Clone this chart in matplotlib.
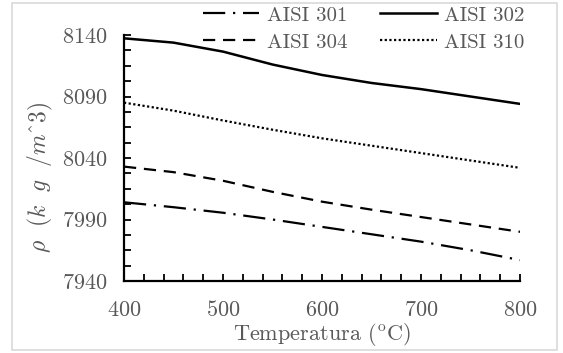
import matplotlib
matplotlib.use("Agg")
import matplotlib.pyplot as plt
import numpy as np
from matplotlib.patches import Rectangle

temps = [400, 450, 500, 550, 600, 650, 700, 750, 800]
aisi_301 = [8004, 8000, 7995.5, 7990, 7984, 7978, 7972, 7965, 7957]
aisi_302 = [8137.3, 8133.8, 8126.5, 8116, 8107.5, 8101, 8096, 8090, 8084]
aisi_304 = [8033, 8028.5, 8021.5, 8012.5, 8004.5, 7998, 7992, 7986, 7980]
aisi_310 = [8085, 8078.5, 8070.5, 8063, 8056, 8050, 8044, 8038, 8032]

y_ticks = [7940, 7990, 8040, 8090, 8140]
x_ticks = [400, 500, 600, 700, 800]

plt.rcParams['font.family'] = 'cmr10'
plt.rcParams['mathtext.fontset'] = 'cm'
plt.rcParams['axes.formatter.use_mathtext'] = True
gray = '#595959'

fig = plt.figure(figsize=(5.63, 3.53), dpi=100)
fig.patches.append(Rectangle((12 / 563, 3 / 353), 545 / 563, 347 / 353,
                             transform=fig.transFigure, fill=False,
                             edgecolor='#d9d9d9', lw=1.2))
ax = fig.add_axes([124 / 563, 72 / 353, 396 / 563, 246 / 353])

l301, = ax.plot(temps, aisi_301, color='k', lw=1.6, dashes=(10, 3.5, 1, 3.5), label='AISI 301')
l302, = ax.plot(temps, aisi_302, color='k', lw=1.8, label='AISI 302')
l304, = ax.plot(temps, aisi_304, color='k', lw=1.6, dashes=(5.5, 3.5), label='AISI 304')
l310, = ax.plot(temps, aisi_310, color='k', lw=1.6, dashes=(1, 1.1), label='AISI 310')

ax.set_xlim(400, 800)
ax.set_ylim(7940, 8140)
ax.set_xticks(x_ticks)
ax.set_xticks(np.arange(400, 801, 20), minor=True)
ax.set_yticks(y_ticks)
ax.set_yticks(np.arange(7940, 8141, 12.5), minor=True)

for s in ['top', 'right']:
    ax.spines[s].set_visible(False)
for s in ['left', 'bottom']:
    ax.spines[s].set_linewidth(1.6)

ax.tick_params(axis='both', which='both', direction='in', width=1.3, length=5,
               colors='k', labelcolor=gray, labelsize=16)
ax.tick_params(axis='x', pad=14)
ax.tick_params(axis='y', pad=12)

fig.text(322 / 563, 1 - 334 / 353, r'Temperatura ($^{\mathrm{o}}$C)', fontsize=16,
         color=gray, ha='center', va='center')
fig.text(40 / 563, 1 - 177 / 353, r'$\rho\ \ (k\ \ g\ \ /m$^$3)$', fontsize=17,
         color=gray, ha='center', va='center', rotation=90)

fig.legend([l301, l304, l302, l310], ['AISI 301', 'AISI 304', 'AISI 302', 'AISI 310'],
           loc='upper left', bbox_to_anchor=(203 / 563, 1 - 6 / 353), ncol=2,
           frameon=False, fontsize=15, labelcolor=gray, handlelength=2.7,
           columnspacing=1.6, handletextpad=0.35, labelspacing=0.4,
           borderpad=0, borderaxespad=0)

fig.savefig('out.png', dpi=100)
